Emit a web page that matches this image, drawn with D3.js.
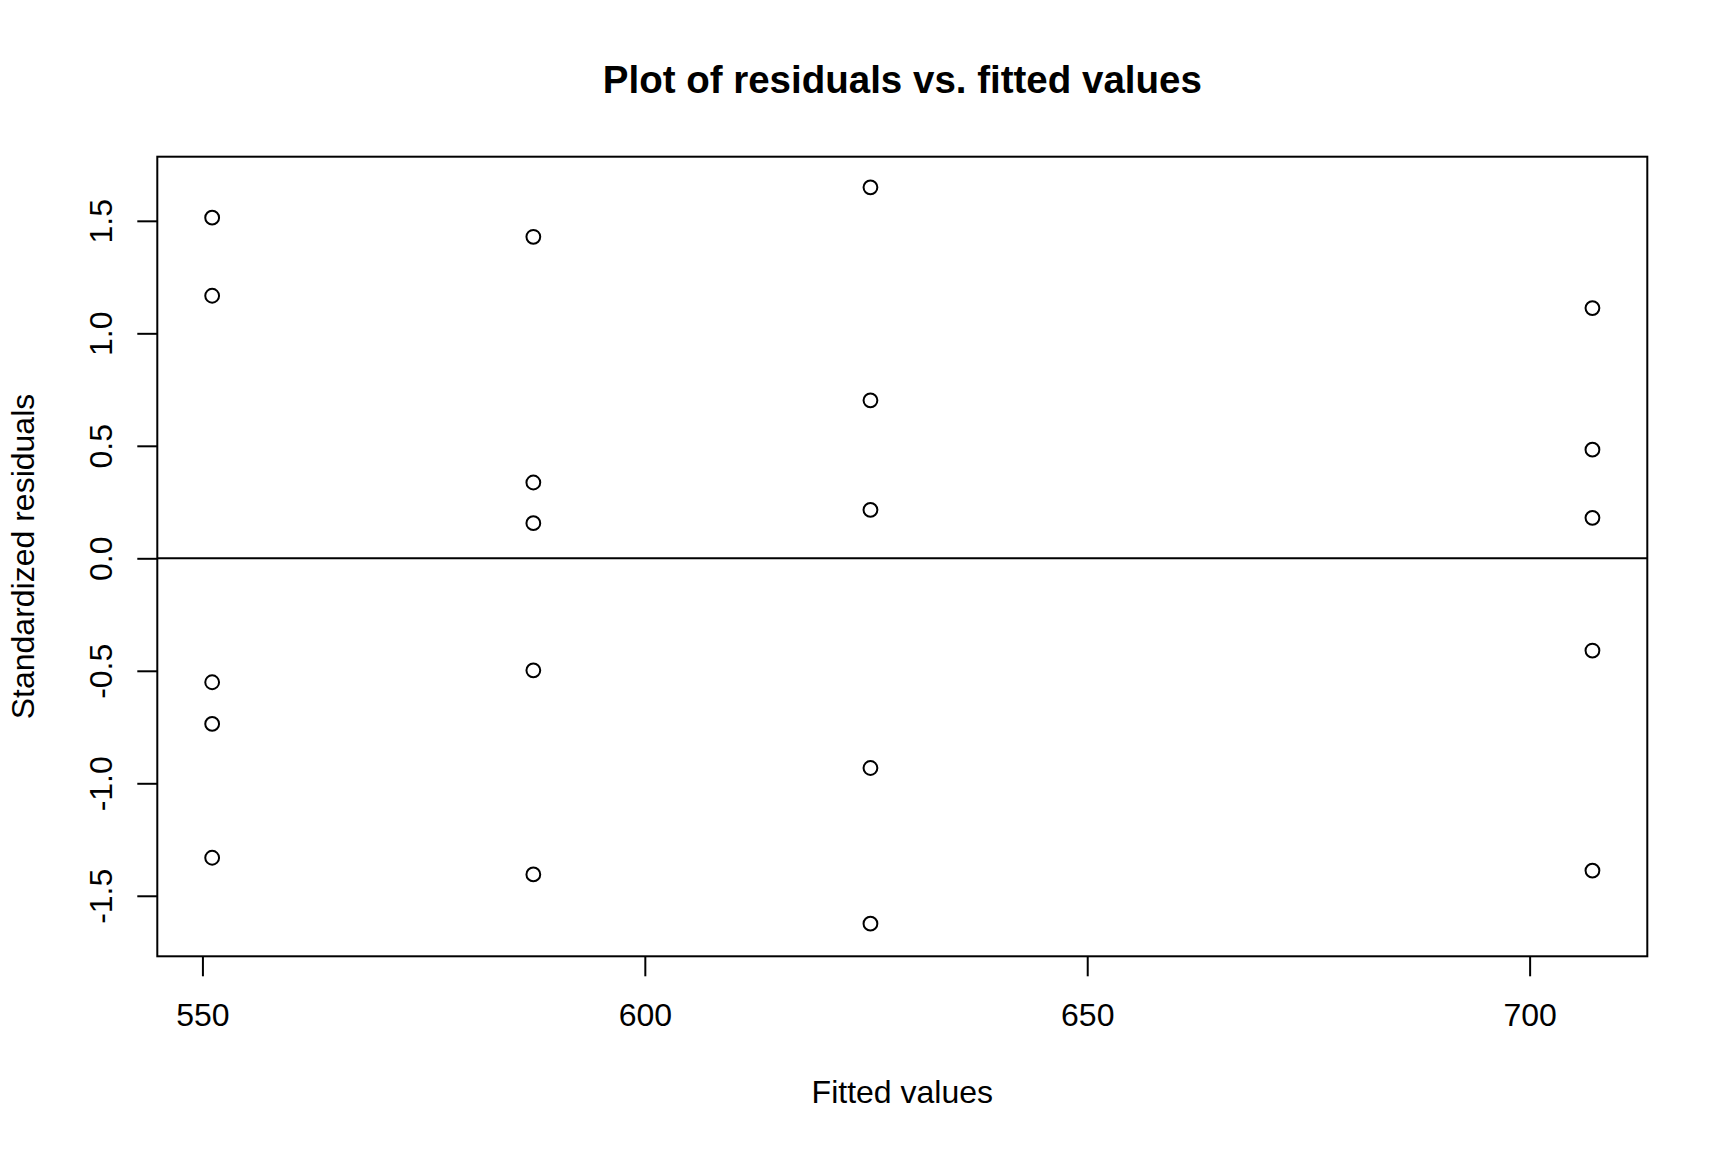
<!DOCTYPE html>
<html>
<head>
<meta charset="utf-8">
<script src="https://cdn.jsdelivr.net/npm/d3@7"></script>
<style>
  html, body { margin: 0; padding: 0; background: #fff; }
  svg { display: block; }
  text { font-family: "Liberation Sans", Arial, Helvetica, sans-serif; fill: #000; }
</style>
</head>
<body>
<svg id="chart" width="1728" height="1152"></svg>
<script>
// ---- data ----
const fittedValues = [
  551.1, 551.1, 551.1, 551.1, 551.1,
  587.4, 587.4, 587.4, 587.4, 587.4,
  625.5, 625.5, 625.5, 625.5, 625.5,
  707.1, 707.1, 707.1, 707.1, 707.1
];
const standardizedResiduals = [
  1.514, 1.167, -0.551, -0.736, -1.331,
  1.429, 0.337, 0.156, -0.498, -1.405,
  1.649, 0.702, 0.215, -0.932, -1.624,
  1.112, 0.483, 0.180, -0.410, -1.388
];
const xTicks = [550, 600, 650, 700];
const yTicks = [-1.5, -1.0, -0.5, 0.0, 0.5, 1.0, 1.5];
const yTickLabels = ["-1.5", "-1.0", "-0.5", "0.0", "0.5", "1.0", "1.5"];
const titleText = "Plot of residuals vs. fitted values";
const xLabel = "Fitted values";
const yLabel = "Standardized residuals";

(function () {
  // ---- layout ----
  const pLeft = 157.3, pRight = 1647.3, pTop = 156.7, pBottom = 956.3;
  const svg = d3.select("#chart");
  const FONT = "Liberation Sans, Arial, Helvetica, sans-serif";

  const x = d3.scaleLinear().domain([544.9, 713.3]).range([pLeft, pRight]);
  const y = d3.scaleLinear().domain([-1.769, 1.785]).range([pBottom, pTop]);

  // zero reference line
  svg.append("line")
    .attr("x1", pLeft).attr("x2", pRight)
    .attr("y1", y(0)).attr("y2", y(0))
    .attr("stroke", "#000").attr("stroke-width", 2);

  // points
  svg.append("g").selectAll("circle")
    .data(fittedValues.map((f, i) => ({f, r: standardizedResiduals[i]})))
    .join("circle")
    .attr("cx", d => x(d.f))
    .attr("cy", d => y(d.r))
    .attr("r", 6.9)
    .attr("fill", "none")
    .attr("stroke", "#000")
    .attr("stroke-width", 2);

  // x axis
  const gx = svg.append("g")
    .attr("transform", `translate(0,${pBottom})`)
    .call(d3.axisBottom(x).tickValues(xTicks).tickSize(20).tickSizeOuter(0).tickFormat(d => String(d)));
  gx.select(".domain").remove();
  gx.selectAll(".tick line").attr("stroke", "#000").attr("stroke-width", 2);
  gx.selectAll(".tick text")
    .attr("y", 1026 - pBottom).attr("dy", 0)
    .attr("fill", "#000")
    .attr("font-size", 32)
    .attr("font-family", FONT);

  // y axis
  const gy = svg.append("g")
    .attr("transform", `translate(${pLeft},0)`)
    .call(d3.axisLeft(y).tickValues(yTicks).tickSize(20).tickSizeOuter(0)
      .tickFormat((d, i) => yTickLabels[i]));
  gy.select(".domain").remove();
  gy.selectAll(".tick line").attr("stroke", "#000").attr("stroke-width", 2);
  gy.selectAll(".tick text")
    .attr("x", 0).attr("y", 0).attr("dy", 0).attr("dx", 0)
    .attr("fill", "#000")
    .attr("text-anchor", "middle")
    .attr("transform", `translate(${111.7 - pLeft},0) rotate(-90)`)
    .attr("font-size", 32)
    .attr("font-family", FONT);

  // frame
  svg.append("rect")
    .attr("x", pLeft).attr("y", pTop)
    .attr("width", pRight - pLeft).attr("height", pBottom - pTop)
    .attr("fill", "none").attr("stroke", "#000").attr("stroke-width", 2);

  // title
  svg.append("text")
    .attr("x", (pLeft + pRight) / 2).attr("y", 92.7)
    .attr("text-anchor", "middle")
    .attr("font-size", 38.5).attr("font-weight", "bold")
    .text(titleText);

  // x label
  svg.append("text")
    .attr("x", (pLeft + pRight) / 2).attr("y", 1102.7)
    .attr("text-anchor", "middle")
    .attr("font-size", 32)
    .text(xLabel);

  // y label
  svg.append("text")
    .attr("transform", `translate(33.5,${(pTop + pBottom) / 2}) rotate(-90)`)
    .attr("text-anchor", "middle")
    .attr("font-size", 32)
    .text(yLabel);
})();
</script>
</body>
</html>
